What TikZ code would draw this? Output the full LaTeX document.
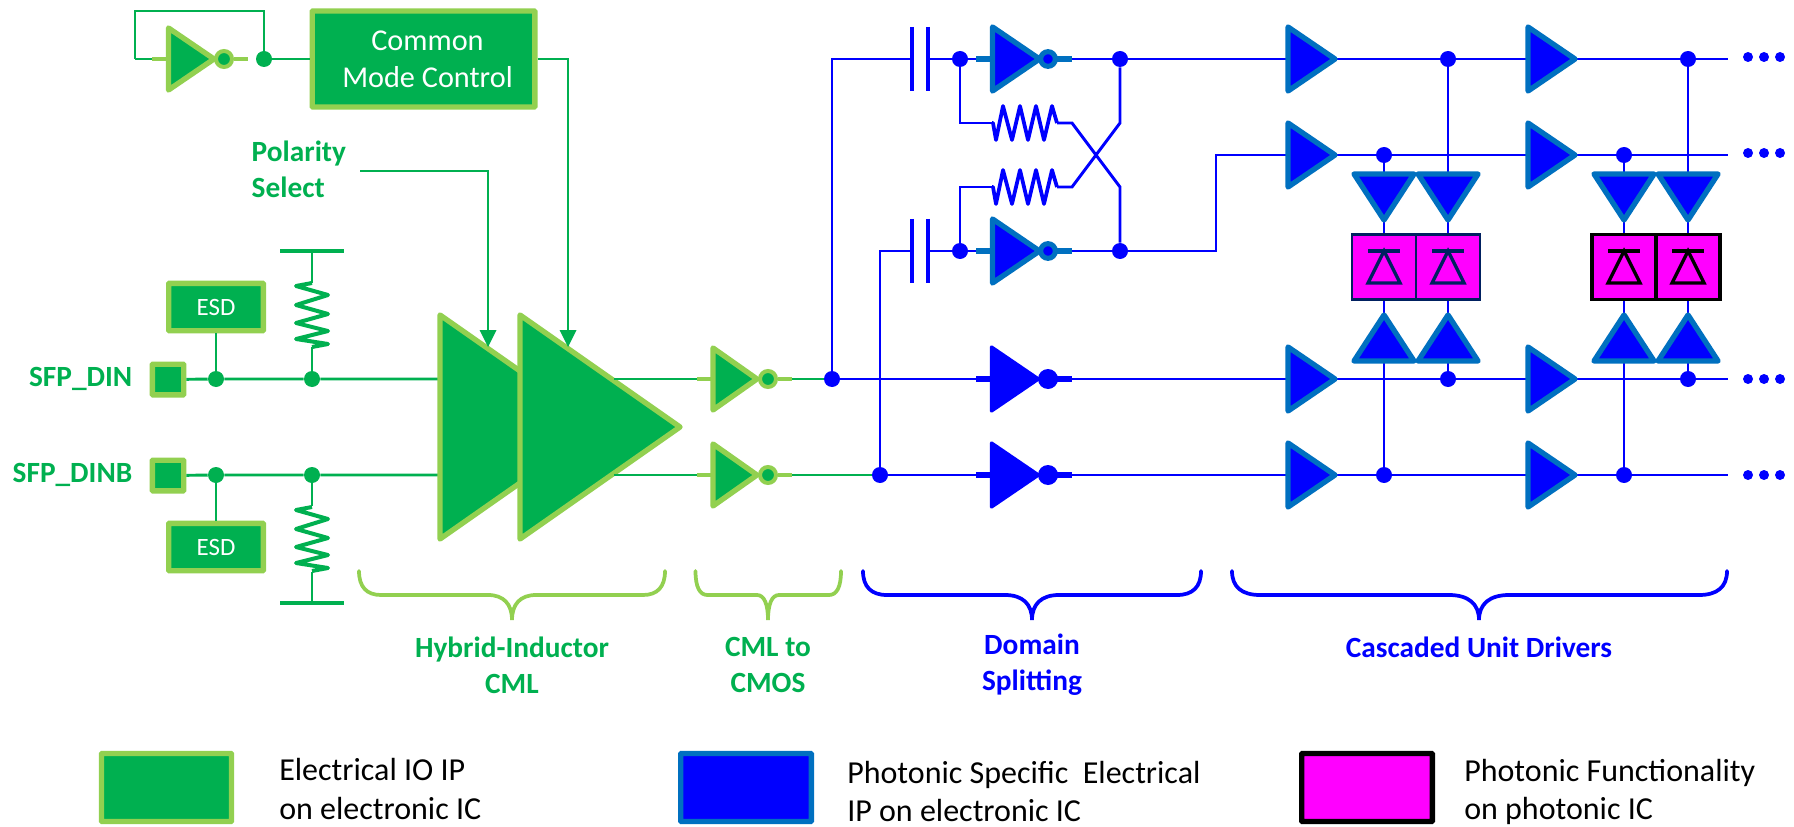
\documentclass[tikz,border=0pt]{standalone}
\usepackage{fontspec}
\setmainfont{Carlito}
\definecolor{gfill}{HTML}{00B050}
\definecolor{gedge}{HTML}{92D050}
\definecolor{bfill}{HTML}{0000FF}
\definecolor{bedge}{HTML}{0070C0}
\definecolor{mfill}{HTML}{FF00FF}
\definecolor{navy}{HTML}{002060}
\tikzset{
 gwire/.style={draw=gfill,line width=2.2pt},
 bwire/.style={draw=bfill,line width=2.2pt},
 gdot/.style={circle,fill=gfill,inner sep=0pt,minimum size=12pt},
 bdot/.style={circle,fill=bfill,inner sep=0pt,minimum size=12pt},
 edot/.style={circle,fill=bfill,inner sep=0pt,minimum size=7.5pt},
 gshape/.style={draw=gedge,fill=gfill,line width=4pt,line join=round},
 bshape/.style={draw=bedge,fill=bfill,line width=4pt,line join=round},
 sshape/.style={draw=bfill,fill=bfill,line width=2.5pt,line join=round},
 gbox/.style={draw=gedge,fill=gfill,line width=4pt,rounded corners=0.5pt,inner sep=0pt,text=white,align=center},
 bbox/.style={draw=bedge,fill=bfill,line width=4pt,rounded corners=0.5pt,inner sep=0pt},
 kbox/.style={draw=black,fill=mfill,line width=4pt,rounded corners=0.5pt,inner sep=0pt},
 gstub/.style={draw=gedge,line width=3.2pt},
 bstub/.style={draw=bedge,line width=3.8pt},
 sstub/.style={draw=bfill,line width=3.8pt},
 glabel/.style={text=gfill,font=\fontsize{22}{27}\selectfont\bfseries,align=center},
 blabel/.style={text=bfill,font=\fontsize{22}{27}\selectfont\bfseries,align=center},
 legendtext/.style={text=black,font=\fontsize{24}{28.5}\selectfont,align=left,anchor=west,inner sep=0pt},
 gzig/.style={draw=gfill,line width=3pt,line join=round},
 bzig/.style={draw=bfill,line width=2.8pt,line join=round},
 arrowfill/.style={fill=gfill},
 gbrace/.style={draw=gedge,line width=2.8pt,line cap=round},
 bbrace/.style={draw=bfill,line width=2.8pt,line cap=round},
}
% driver pointing right: x, y, style
\newcommand{\rdrv}[3]{\path[#3] (#1,#2-32) -- (#1+47,#2) -- (#1,#2+32) -- cycle;}
\newcommand{\ddrv}[2]{\path[bshape] (#1-30,#2) -- (#1+30,#2) -- (#1,#2+46) -- cycle;}
\newcommand{\udrv}[2]{\path[bshape] (#1-30,#2) -- (#1+30,#2) -- (#1,#2-46) -- cycle;}
\newcommand{\dcell}[4]{% x, style colour, line width
 \node[draw=#2,fill=mfill,line width=#3,inner sep=0pt,minimum width=48pt,minimum height=48.5pt] (#4) at (#1,267) {};
 \draw[draw=#2,line width=2.5pt] (#1-16,251) -- (#1+16,251);
 \draw[draw=#2,line width=2.5pt,line join=miter] (#1,251) -- (#1+16,283) -- (#1-16,283) -- cycle;}
\newcommand{\brc}[6]{% left, centre, right, corner, inner, style
 \draw[#6] (#1,571) .. controls (#1,587) and (#1+#4*0.35,595) .. (#1+#4,595) -- (#2-#5,595) .. controls (#2-#5*0.35,595) and (#2,604) .. (#2,620) .. controls (#2,604) and (#2+#5*0.35,595) .. (#2+#5,595) -- (#3-#4,595) .. controls (#3-#4*0.35,595) and (#3,587) .. (#3,571);}
\newcommand{\gres}[2]{% x, top y ; 64 px high
 \draw[gzig] (#1,#2) -- (#1-16,#2+3) -- (#1+16,#2+12) -- (#1-16,#2+22) -- (#1+16,#2+31) -- (#1-16,#2+40) -- (#1+16,#2+48) -- (#1-16,#2+56) -- (#1+16,#2+61) -- (#1,#2+64);}
\newcommand{\bres}[2]{% start x, y
 \draw[bzig] (#1,#2) -- (#1+1,#2) -- (#1+4,#2+17) -- (#1+11,#2-17) -- (#1+20,#2+17) -- (#1+28,#2-17) -- (#1+36,#2+17) -- (#1+44,#2-17) -- (#1+52,#2+17) -- (#1+60,#2-17) -- (#1+65,#2);}
\begin{document}
\begin{tikzpicture}[x=0.75pt,y=-0.75pt]
\useasboundingbox (0,0) rectangle (1794,827);
% ---- coordinates
\coordinate (fbL) at (135,59); \coordinate (fbTL) at (135,11); \coordinate (fbTR) at (264,11);
\coordinate (ps) at (360,171); \coordinate (psA) at (488,347); \coordinate (cmA) at (568,347);
\coordinate (vddT) at (312,251); \coordinate (vssB) at (312,603);
\coordinate (barTL) at (280,251); \coordinate (barTR) at (344,251);
\coordinate (barBL) at (280,603); \coordinate (barBR) at (344,603);
\coordinate (rTtop) at (312,283); \coordinate (rTbot) at (312,347);
\coordinate (rBtop) at (312,506); \coordinate (rBbot) at (312,572);
\coordinate (capA1) at (912,59); \coordinate (capB1) at (928,59);
\coordinate (capA2) at (912,251); \coordinate (capB2) at (928,251);
\coordinate (r1L) at (992,123); \coordinate (r1R) at (1057,123); \coordinate (r1X) at (1072,123);
\coordinate (r2L) at (992,187); \coordinate (r2R) at (1057,187); \coordinate (r2X) at (1072,187);
\coordinate (xa) at (1120,123); \coordinate (xb) at (1120,187);
\coordinate (e1) at (1728,59); \coordinate (e2) at (1728,155); \coordinate (e3) at (1728,379); \coordinate (e4) at (1728,475);
\coordinate (row2s) at (1286,155);
\coordinate (trA) at (614,379); \coordinate (trB) at (614,475);
\coordinate (in3) at (1286,379); \coordinate (in4) at (1286,475);
% ---- dots
\node[gdot] (jfb) at (264,59) {};
\node[gdot] (je1) at (216,379) {};
\node[gdot] (jr1) at (312,379) {};
\node[gdot] (je2) at (216,475) {};
\node[gdot] (jr2) at (312,475) {};
% ---- boxes
\node[gbox,minimum width=167pt,minimum height=72pt,font=\fontsize{22.7}{28}\selectfont] (cmc) at (423.5,59) {\hspace*{6pt}Common\\\hspace*{6pt}Mode Control};
\node[gbox,minimum width=71pt,minimum height=35.5pt,font=\fontsize{18.7}{20}\selectfont] (esd1) at (216,307) {ESD};
\node[gbox,minimum width=71pt,minimum height=35.5pt,font=\fontsize{18.7}{20}\selectfont] (esd2) at (216,547) {ESD};
\node[gbox,minimum width=23.5pt,minimum height=23pt] (pad1) at (168,379.5) {};
\node[gbox,minimum width=23.5pt,minimum height=23pt] (pad2) at (168,475.5) {};
% ---- green wires
\draw[gwire] (fbL) |- (fbTR) -- (jfb);
\draw[gwire] (jfb) -- (cmc.west);
\draw[gwire] (fbL) -- (170,59);
\draw[gwire] (cmc.east) -| (cmA);
\draw[gwire] (ps) -| (psA);
\draw[gwire] (esd1) -- (je1);
\draw[gwire] (esd2) -- (je2);
\draw[gwire] (pad1) -- (je1) -- (jr1) -- (450,379);
\draw[gwire] (pad2) -- (je2) -- (jr2) -- (450,475);
\draw[gwire] (vddT) -- (rTtop); \draw[gwire] (rTbot) -- (jr1);
\draw[gwire] (jr2) -- (rBtop); \draw[gwire] (rBbot) -- (vssB);
\draw[draw=gfill,line width=3pt] (barTL) -- (barTR);
\draw[draw=gfill,line width=3pt] (barBL) -- (barBR);
\gres{312}{283}
\gres{312}{507}
% ---- CML triangles
\path[gshape] (440,315) -- (600,427) -- (440,539) -- cycle;
\path[gshape] (520,315) -- (680,427) -- (520,539) -- cycle;
\draw[gwire] (trA) -- (700,379);
\draw[gwire] (trB) -- (700,475);
\draw[gwire] (792,379) -- (832,379);
\draw[gwire] (792,475) -- (880,475);
% arrowheads
\path[arrowfill] (psA) -- ++(-8.5,-17) -- ++(17,0) -- cycle;
\path[arrowfill] (cmA) -- ++(-8.5,-17) -- ++(17,0) -- cycle;
% ---- blue junctions
\node[bdot] (js1) at (832,379) {};
\node[bdot] (js2) at (880,475) {};
\node[bdot] (jc1) at (960,59) {};
\node[bdot] (jc2) at (960,251) {};
\node[bdot] (jo1) at (1120,59) {};
\node[bdot] (jo2) at (1120,251) {};
\node[bdot] (t1) at (1448,59) {};
\node[bdot] (t2) at (1688,59) {};
\node[bdot] (t3) at (1384,155) {};
\node[bdot] (t4) at (1624,155) {};
\node[bdot] (t5) at (1448,379) {};
\node[bdot] (t6) at (1688,379) {};
\node[bdot] (t7) at (1384,475) {};
\node[bdot] (t8) at (1624,475) {};
% ---- photonic cells
\dcell{1384}{navy}{2.2pt}{p1}
\dcell{1448}{navy}{2.2pt}{p2}
\dcell{1624}{black}{2.6pt}{p3}
\dcell{1688}{black}{2.6pt}{p4}
% ---- blue wires
\draw[bwire] (js1) |- (capA1);
\draw[bwire] (js2) |- (capA2);
\draw[bwire] (capB1) -- (jc1) -- (jo1) -- (e1);
\draw[bwire] (capB2) -- (jc2) -- (jo2);
\draw[bwire] (jo2) -| (1216,155) -- (e2);
\draw[bwire] (js1) -- (e3);
\draw[bwire] (js2) -- (e4);
\draw[draw=bfill,line width=2.8pt] (912,27) -- (912,91);
\draw[draw=bfill,line width=2.8pt] (928,27) -- (928,91);
\draw[draw=bfill,line width=2.8pt] (912,219) -- (912,283);
\draw[draw=bfill,line width=2.8pt] (928,219) -- (928,283);
\draw[bwire] (jc1) |- (r1L);
\draw[bwire] (jc2) |- (r2L);
\draw[bwire] (r1R) -- (r1X) -- (xb) -- (jo2);
\draw[bwire] (r2R) -- (r2X) -- (xa) -- (jo1);
\bres{992}{123}
\bres{992}{187}
\draw[bwire] (t1) -- (p2.north);
\draw[bwire] (t3) -- (p1.north);
\draw[bwire] (t2) -- (p4.north);
\draw[bwire] (t4) -- (p3.north);
\draw[bwire] (p2.south) -- (t5);
\draw[bwire] (p1.south) -- (t7);
\draw[bwire] (p4.south) -- (t6);
\draw[bwire] (p3.south) -- (t8);
% ---- green inverters
\draw[gstub] (152,59) -- (170,59);
\draw[gstub] (234,59) -- (248,59);
\path[gshape] (168.5,28) -- (214,59) -- (168.5,90) -- cycle;
\node[draw=gedge,fill=gfill,line width=3pt,circle,inner sep=0pt,minimum size=12pt] (b0) at (224,59) {};
\draw[gstub] (697,379) -- (712,379);
\draw[gstub] (778,379) -- (792,379);
\path[gshape] (713,348) -- (757,379) -- (713,410) -- cycle;
\node[draw=gedge,fill=gfill,line width=3pt,circle,inner sep=0pt,minimum size=12pt] (b1) at (768,379) {};
\draw[gstub] (697,475) -- (712,475);
\draw[gstub] (778,475) -- (792,475);
\path[gshape] (713,444) -- (757,475) -- (713,506) -- cycle;
\node[draw=gedge,fill=gfill,line width=3pt,circle,inner sep=0pt,minimum size=12pt] (b2) at (768,475) {};
% ---- blue inverters
\draw[bstub] (976,59) -- (992,59);
\draw[bstub] (1056,59) -- (1072,59);
\rdrv{992.5}{59}{bshape}
\node[draw=bedge,fill=bfill,line width=3.8pt,circle,inner sep=0pt,minimum size=11pt] (b3) at (1048,59) {};
\draw[bstub] (976,251) -- (992,251);
\draw[bstub] (1056,251) -- (1072,251);
\rdrv{992.5}{251}{bshape}
\node[draw=bedge,fill=bfill,line width=3.8pt,circle,inner sep=0pt,minimum size=11pt] (b4) at (1048,251) {};
\draw[sstub] (976,379) -- (992,379);
\draw[sstub] (1056,379) -- (1072,379);
\rdrv{991.5}{379}{sshape}
\node[circle,fill=bfill,inner sep=0pt,minimum size=15pt] (b5) at (1048,379) {};
\draw[sstub] (976,475) -- (992,475);
\draw[sstub] (1056,475) -- (1072,475);
\rdrv{991.5}{475}{sshape}
\node[circle,fill=bfill,inner sep=0pt,minimum size=15pt] (b6) at (1048,475) {};
% ---- cascaded drivers
\foreach \yy in {59,155,379,475}{
 \rdrv{1288}{\yy}{bshape}
 \rdrv{1528}{\yy}{bshape}
 \node[edot] at (1748,\yy-\ifnum\yy<200 2\else 0\fi) {};
 \node[edot] at (1764,\yy-\ifnum\yy<200 2\else 0\fi) {};
 \node[edot] at (1780,\yy-\ifnum\yy<200 2\else 0\fi) {};
}
\foreach \xx in {1384,1448,1624,1688}{
 \ddrv{\xx}{174}
 \udrv{\xx}{361}
}
% ---- braces
\brc{359}{512}{665}{22}{24}{gbrace}
\brc{695.5}{768}{841}{12}{11}{gbrace}
\brc{863}{1032}{1201}{24}{27}{bbrace}
\brc{1232}{1479}{1727}{28}{30}{bbrace}
% ---- labels
\node[glabel,anchor=west,align=left] (lps) at (247,169.5) {Polarity\\Select};
\node[glabel,anchor=east] (lin) at (137,379) {SFP\_DIN};
\node[glabel,anchor=east] (linb) at (137,475) {SFP\_DINB};
\node[glabel] (l1) at (512,665) {Hybrid-Inductor\\CML};
\node[glabel] (l2) at (768,665) {CML to\\CMOS};
\node[blabel] (l3) at (1032,665) {Domain\\Splitting};
\node[blabel] (l4) at (1479,647) {Cascaded Unit Drivers};
% ---- legend
\node[gbox,minimum width=97.5pt,minimum height=51pt] (lg1) at (166.5,787.5) {};
\node[bbox,minimum width=98pt,minimum height=51pt] (lg2) at (746,787.5) {};
\node[kbox,minimum width=98pt,minimum height=51pt] (lg3) at (1367,787.5) {};
\node[legendtext] (lt1) at (279,789) {Electrical IO IP\\on electronic IC};
\node[legendtext] (lt2) at (847,791.5) {Photonic Specific\ \ Electrical\\IP on electronic IC};
\node[legendtext] (lt3) at (1464,791.5) {Photonic Functionality\\on photonic IC};
\end{tikzpicture}
\end{document}
